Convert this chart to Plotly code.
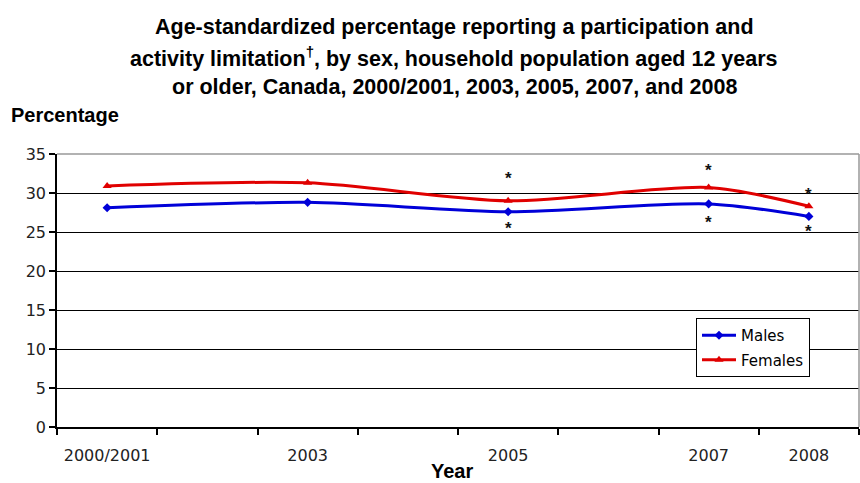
import plotly.graph_objects as go

# Survey cycles and age-standardized percentages
years = [2001, 2003, 2005, 2007, 2008]
year_labels = ["2000/2001", "2003", "2005", "2007", "2008"]
males = [28.1, 28.8, 27.6, 28.6, 27.0]
females = [30.9, 31.3, 29.0, 30.7, 28.3]
# significantly different from 2000/2001 (marked with *)
males_sig = [False, False, True, True, True]
females_sig = [False, False, True, True, True]

title_lines = [
    "Age-standardized percentage reporting a participation and",
    "activity limitation<sup>†</sup>, by sex, household population aged 12 years",
    "or older, Canada, 2000/2001, 2003, 2005, 2007, and 2008",
]

BOLD = "Liberation Sans, Arial, sans-serif"
TICK = "DejaVu Sans, sans-serif"

fig = go.Figure()
fig.add_trace(go.Scatter(
    x=years, y=males, name="Males", mode="lines+markers", legendgroup="m",
    line=dict(color="#0000d8", width=3, shape="spline", smoothing=0.8),
    marker=dict(symbol="diamond", size=7, color="#0000d8"),
))
fig.add_trace(go.Scatter(
    x=years, y=females, name="Females", mode="lines+markers", legendgroup="f",
    line=dict(color="#e00000", width=3, shape="spline", smoothing=0.8),
    marker=dict(symbol="triangle-up", size=8, color="#e00000"),
))

# asterisk placement (pixels from the point)
f_shift = [0, 0, 22, 17, 12]
m_shift = [0, 0, -17, -19, -15]
annotations = []
star_font = dict(family=BOLD, size=17, color="#111")
for x, y, s, d in zip(years, females, females_sig, f_shift):
    if s:
        annotations.append(dict(x=x, y=y, text="<b>*</b>", showarrow=False,
                                yshift=d, font=star_font))
for x, y, s, d in zip(years, males, males_sig, m_shift):
    if s:
        annotations.append(dict(x=x, y=y, text="<b>*</b>", showarrow=False,
                                yshift=d, font=star_font))

for i, line in enumerate(title_lines):
    annotations.append(dict(
        xref="paper", yref="paper", x=(454 - 57) / 802, y=(427 - (27 + 30 * i)) / 273,
        xanchor="center", yanchor="middle", text="<b>" + line + "</b>",
        showarrow=False, font=dict(family=BOLD, size=21.5, color="black"),
    ))
annotations.append(dict(
    xref="paper", yref="paper", x=-48 / 802, y=(427 - 115) / 273,
    xanchor="left", yanchor="middle", text="<b>Percentage</b>", showarrow=False,
    font=dict(family=BOLD, size=20, color="black"),
))
annotations.append(dict(
    xref="paper", yref="paper", x=(452 - 57) / 802, y=(427 - 471) / 273,
    xanchor="center", yanchor="middle", text="<b>Year</b>", showarrow=False,
    font=dict(family=BOLD, size=20, color="black"),
))

fig.update_layout(
    width=860, height=483,
    margin=dict(l=57, r=1, t=154, b=56),
    paper_bgcolor="white", plot_bgcolor="white",
    showlegend=True,
    legend=dict(
        x=(696 - 57) / 802, y=(427 - 318) / 273, xanchor="left", yanchor="top",
        bordercolor="black", borderwidth=1, bgcolor="white",
        font=dict(family=TICK, size=15, color="black"),
        itemwidth=34, tracegroupgap=2,
    ),
    annotations=annotations,
    shapes=[
        dict(type="line", xref="paper", yref="paper", x0=0, x1=1, y0=1, y1=1,
             line=dict(color="#999999", width=1.5)),
        dict(type="line", xref="paper", yref="paper", x0=1, x1=1, y0=0, y1=1,
             line=dict(color="#999999", width=1.5)),
    ],
)

fig.update_xaxes(
    range=[2000.5, 2008.5], tickmode="array", tickvals=years, ticktext=year_labels,
    ticks="", showgrid=False, zeroline=False,
    showline=True, linecolor="black", linewidth=1.5,
    ticklabelstandoff=13,
    tickfont=dict(family=TICK, size=16, color="#222"),
    minor=dict(tick0=2000.5, dtick=1, ticks="outside", ticklen=6,
               tickcolor="black", tickwidth=1.5, showgrid=False),
)
fig.update_yaxes(
    range=[0, 35], dtick=5, showgrid=True, gridcolor="black", gridwidth=1,
    zeroline=False, showline=True, linecolor="black", linewidth=1.5,
    ticks="outside", ticklen=6, tickcolor="black", tickwidth=1.5,
    tickfont=dict(family=TICK, size=16, color="#222"),
)

fig.write_html("out.html")
